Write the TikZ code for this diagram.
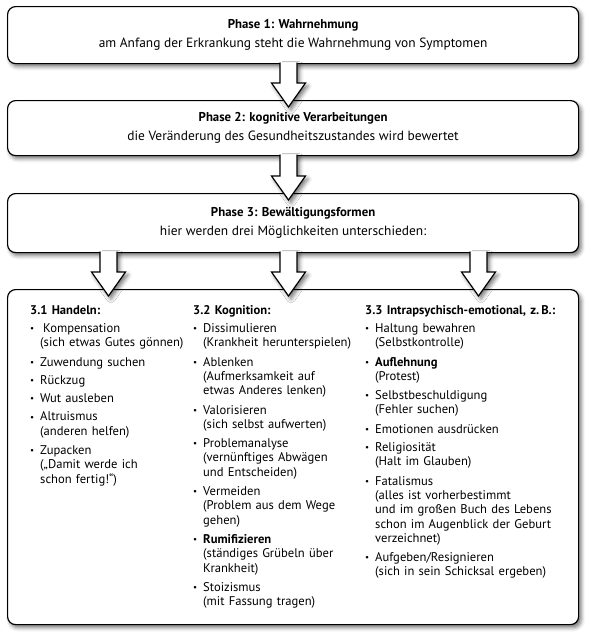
\documentclass[tikz,border=0pt]{standalone}
\usepackage{fontspec}
\setmainfont{PT Sans}
\usetikzlibrary{calc,shadows.blur}
\newcommand\hd[1]{\noindent\textbf{#1}\par}
\newcommand\ttl[1]{{\fontsize{12.8pt}{15pt}\selectfont\textbf{#1}}}
\newcommand\bul{\makebox[10pt][l]{\raisebox{0.9pt}{\fontsize{9pt}{9pt}\selectfont •}}}
\newcommand\itm[1]{\par\vspace{4pt}\noindent\bul\begin{tabular}[t]{@{}l@{}}#1\end{tabular}}
\tikzset{
  shad/.style={blur shadow={shadow xshift=2.5pt, shadow yshift=-3pt, shadow blur radius=4pt, shadow opacity=55}},
  box/.style={draw=black, line width=1.2pt, rounded corners=8pt, fill=white, shad,
    anchor=north west, inner sep=0pt, align=center, minimum width=571pt,
    font=\fontsize{13.4pt}{15pt}\selectfont},
  coltext/.style={anchor=north west, inner sep=0pt, align=left, text width=215pt,
    font=\fontsize{12.6pt}{14.3pt}\selectfont},
  arrowline/.style={draw=black, line width=1.2pt, line join=miter},
}
\newcommand\barrow[2]{%
  \path[fill=white, shad] let \p1=#1, \p2=#2 in
    (\x1-8.5pt,\y1) -- (\x1-8.5pt,\y2+24pt) -- (\x1-17pt,\y2+24pt) -- (\x1,\y2)
    -- (\x1+17pt,\y2+24pt) -- (\x1+8.5pt,\y2+24pt) -- (\x1+8.5pt,\y1) -- cycle;
  \path[arrowline] let \p1=#1, \p2=#2 in
    (\x1-8.5pt,\y1) -- (\x1-8.5pt,\y2+24pt) -- (\x1-17pt,\y2+24pt) -- (\x1,\y2)
    -- (\x1+17pt,\y2+24pt) -- (\x1+8.5pt,\y2+24pt) -- (\x1+8.5pt,\y1);
}
\begin{document}
\begin{tikzpicture}[x=1pt,y=-1pt]
\useasboundingbox (0,0) rectangle (590,638);
\node[box, minimum height=57pt] (b1) at (7,6)
  {\ttl{Phase 1: Wahrnehmung}\\[4pt]am Anfang der Erkrankung steht die Wahrnehmung von Symptomen};
\node[box, minimum height=55pt] (b2) at (7,100)
  {\ttl{Phase 2: kognitive Verarbeitungen}\\[4pt]die Veränderung des Gesundheitszustandes wird bewertet};
\node[box, minimum height=59pt] (b3) at (7,193)
  {\ttl{Phase 3: Bewältigungsformen}\\[4pt]hier werden drei Möglichkeiten unterschieden:};
\node[box, minimum height=335pt] (b4) at (7,289) {};

\node[coltext] (c1) at (30,305) {\hd{3.1 Handeln:}%
\itm{\hspace{3pt}Kompensation\\(sich etwas Gutes gönnen)}%
\itm{Zuwendung suchen}%
\itm{Rückzug}%
\itm{Wut ausleben}%
\itm{Altruismus\\(anderen helfen)}%
\itm{Zupacken\\(„Damit werde ich\\schon fertig!“)}};

\node[coltext] (c2) at (193,305) {\hd{3.2 Kognition:}%
\itm{Dissimulieren\\(Krankheit herunterspielen)}%
\itm{Ablenken\\(Aufmerksamkeit auf\\etwas Anderes lenken)}%
\itm{Valorisieren\\(sich selbst aufwerten)}%
\itm{Problemanalyse\\(vernünftiges Abwägen\\und Entscheiden)}%
\itm{Vermeiden\\(Problem aus dem Wege\\gehen)}%
\itm{\textbf{Rumifizieren}\\(ständiges Grübeln über\\Krankheit)}%
\itm{Stoizismus\\(mit Fassung tragen)}};

\node[coltext] (c3) at (365,305) {\hd{3.3 Intrapsychisch-emotional, z.\,B.:}%
\itm{Haltung bewahren\\(Selbstkontrolle)}%
\itm{\textbf{Auflehnung}\\(Protest)}%
\itm{Selbstbeschuldigung\\(Fehler suchen)}%
\itm{Emotionen ausdrücken}%
\itm{Religiosität\\(Halt im Glauben)}%
\itm{Fatalismus\\(alles ist vorherbestimmt\\und im großen Buch des Lebens\\schon im Augenblick der Geburt\\verzeichnet)}%
\itm{Aufgeben/Resignieren\\(sich in sein Schicksal ergeben)}};

\barrow{($(b1.south west)+(281.5,-1.5)$)}{($(b2.north west)+(281.5,7)$)}
\barrow{($(b2.south west)+(281.5,-1.5)$)}{($(b3.north west)+(281.5,7)$)}
\barrow{($(b3.south west)+(101.5,-1.5)$)}{($(b4.north west)+(101.5,7)$)}
\barrow{($(b3.south west)+(281.5,-1.5)$)}{($(b4.north west)+(281.5,7)$)}
\barrow{($(b3.south west)+(471.5,-1.5)$)}{($(b4.north west)+(471.5,7)$)}
\end{tikzpicture}
\end{document}
